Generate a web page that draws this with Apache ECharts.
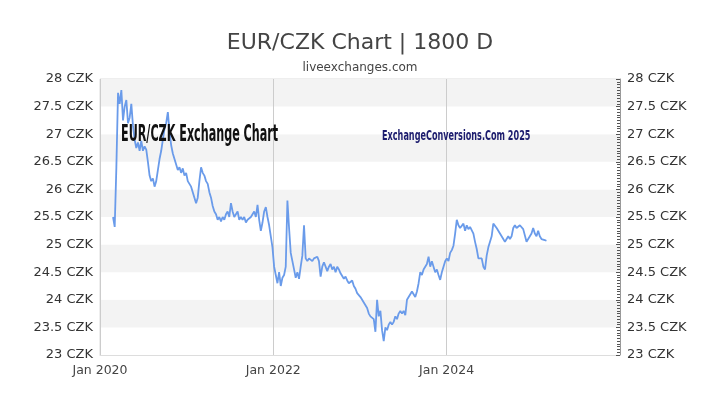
<!DOCTYPE html>
<html>
<head>
<meta charset="utf-8">
<script src="https://cdn.jsdelivr.net/npm/echarts@6/dist/echarts.min.js"></script>
<style>html,body{margin:0;padding:0;background:#fff;}#c{width:720px;height:405px;}</style>
</head>
<body>
<div id="c"></div>
<script>
// Weekly samples starting from this date
const startDate = '2020-02-25';
const stepDays = 7;
const rates = [
  25.5, 25.32, 26.4, 27.75, 27.55, 27.8,
  27.25, 27.5, 27.62, 27.2, 27.3, 27.55,
  27.15, 26.9, 26.75, 26.85, 26.7, 26.88,
  26.7, 26.78, 26.72, 26.5, 26.25, 26.15,
  26.2, 26.05, 26.15, 26.35, 26.55, 26.7,
  26.9, 27.1, 27.2, 27.4, 27.05, 26.8,
  26.65, 26.55, 26.45, 26.35, 26.4, 26.3,
  26.38, 26.25, 26.3, 26.15, 26.1, 26.05,
  25.95, 25.85, 25.75, 25.85, 26.15, 26.4,
  26.3, 26.25, 26.15, 26.1, 25.95, 25.85,
  25.7, 25.6, 25.55, 25.45, 25.5, 25.42,
  25.5, 25.45, 25.55, 25.6, 25.5, 25.75,
  25.6, 25.5, 25.55, 25.6, 25.45, 25.5,
  25.45, 25.5, 25.4, 25.45, 25.42, 25.5,
  25.55, 25.6, 25.5, 25.72, 25.45, 25.25,
  25.4, 25.6, 25.68, 25.5, 25.35, 25.15,
  24.95, 24.6, 24.45, 24.3, 24.5, 24.25,
  24.4, 24.45, 24.6, 25.8, 25.3, 24.85,
  24.7, 24.55, 24.4, 24.5, 24.38, 24.6,
  24.8, 25.35, 24.75, 24.7, 24.75, 24.72,
  24.7, 24.75, 24.72, 24.78, 24.7, 24.42,
  24.6, 24.68, 24.6, 24.52, 24.6, 24.65,
  24.55, 24.6, 24.5, 24.6, 24.55, 24.48,
  24.45, 24.38, 24.42, 24.35, 24.3, 24.32,
  24.35, 24.25, 24.2, 24.12, 24.15, 24.05,
  24.0, 23.95, 23.9, 23.85, 23.75, 23.7,
  23.72, 23.65, 23.42, 24.0, 23.7, 23.8,
  23.45, 23.25, 23.5, 23.45, 23.55, 23.6,
  23.55, 23.6, 23.7, 23.65, 23.75, 23.8,
  23.75, 23.8, 23.72, 24.0, 24.05, 24.1,
  24.15, 24.18, 24.05, 24.15, 24.3, 24.5,
  24.45, 24.55, 24.6, 24.65, 24.78, 24.6,
  24.7, 24.6, 24.5, 24.55, 24.45, 24.36,
  24.5, 24.6, 24.7, 24.75, 24.7, 24.85,
  24.9, 24.98, 25.2, 25.45, 25.35, 25.3,
  25.3, 25.38, 25.25, 25.35, 25.28, 25.32,
  25.3, 25.2, 25.05, 24.92, 24.75, 24.72,
  24.75, 24.6, 24.55, 24.8, 24.95, 25.05,
  25.15, 25.38, 25.4, 25.3, 25.25, 25.2,
  25.15, 25.1, 25.05, 25.1, 25.15, 25.1,
  25.15, 25.3, 25.35, 25.3, 25.32, 25.35,
  25.32, 25.28, 25.25, 25.05, 25.1, 25.15,
  25.2, 25.3, 25.2, 25.15, 25.25, 25.15,
  25.1, 25.12, 25.08, 25.07
];
const xTickLabels = ['Jan 2020', 'Jan 2022', 'Jan 2024'];
const yTickValues = [23, 23.5, 24, 24.5, 25, 25.5, 26, 26.5, 27, 27.5, 28];

const DAY = 86400000;
const origin = Date.UTC(2020, 0, 1);
const s = startDate.split('-').map(Number);
const startOffset = (Date.UTC(s[0], s[1] - 1, s[2]) - origin) / DAY;
const seriesData = rates.map((v, i) => [startOffset + i * stepDays, v]);

const yFmt = v => v + ' CZK';
const axisFont = 'DejaVu Sans';

const chart = echarts.init(document.getElementById('c'));
chart.setOption({
  animation: false,
  backgroundColor: '#fff',
  title: [
    { text: 'EUR/CZK Chart | 1800 D', left: 'center', top: 27,
      textStyle: { fontFamily: axisFont, fontSize: 22, fontWeight: 'normal', color: '#444' } },
    { text: 'liveexchanges.com', left: 'center', top: 57,
      textStyle: { fontFamily: axisFont, fontSize: 12, fontWeight: 'normal', color: '#444' } }
  ],
  grid: { left: 100, right: 100, top: 79, bottom: 50, show: true, borderColor: '#ddd', borderWidth: 1, backgroundColor: 'transparent' },
  xAxis: {
    type: 'value', min: 0, max: 2192, interval: 730.5,
    axisLine: { show: true, lineStyle: { color: '#ddd' } },
    axisTick: { show: false },
    splitLine: { show: true, lineStyle: { color: '#ccc', width: 1 } },
    axisLabel: {
      fontFamily: axisFont, fontSize: 12.5, color: '#444', margin: 9,
      showMaxLabel: false,
      formatter: v => { const k = Math.round(v / 730.5); return (Math.abs(v - k * 730.5) < 1 && k < xTickLabels.length) ? xTickLabels[k] : ''; }
    }
  },
  yAxis: [
    {
      type: 'value', min: yTickValues[0], max: yTickValues[yTickValues.length - 1], interval: 0.5, position: 'left',
      axisLine: { show: false }, axisTick: { show: false },
      splitLine: { show: false },
      splitArea: { show: true, areaStyle: { color: ['#ffffff', '#f3f3f3'] } },
      axisLabel: { fontFamily: axisFont, fontSize: 13, color: '#333', margin: 7, formatter: yFmt }
    },
    {
      type: 'value', min: yTickValues[0], max: yTickValues[yTickValues.length - 1], interval: 0.5, position: 'right',
      axisLine: { show: true, lineStyle: { color: '#999' } },
      axisTick: { show: true, inside: true, length: 4, lineStyle: { color: '#555' } },
      minorTick: { show: true, splitNumber: 10, length: 3, lineStyle: { color: '#555' } },
      splitLine: { show: false },
      axisLabel: { fontFamily: axisFont, fontSize: 13, color: '#333', margin: 7, formatter: yFmt }
    }
  ],
  graphic: [
    { type: 'text', x: 121, y: 135, scaleX: 0.54, z: 100,
      style: { text: 'EUR/CZK Exchange Chart', font: 'bold 23px "Liberation Sans Narrow", "DejaVu Sans Condensed", sans-serif', fill: '#111', textVerticalAlign: 'middle', textAlign: 'left' } },
    { type: 'text', x: 382, y: 136, scaleX: 0.645, z: 100,
      style: { text: 'ExchangeConversions.Com 2025', font: 'bold 14px "Liberation Sans Narrow", "DejaVu Sans Condensed", sans-serif', fill: '#1c1c6e', textVerticalAlign: 'middle', textAlign: 'left' } }
  ],
  series: [{
    type: 'line', data: seriesData, showSymbol: false, symbol: 'none',
    lineStyle: { color: '#6a9bea', width: 1.8 }, z: 5
  }]
});
</script>
</body>
</html>
